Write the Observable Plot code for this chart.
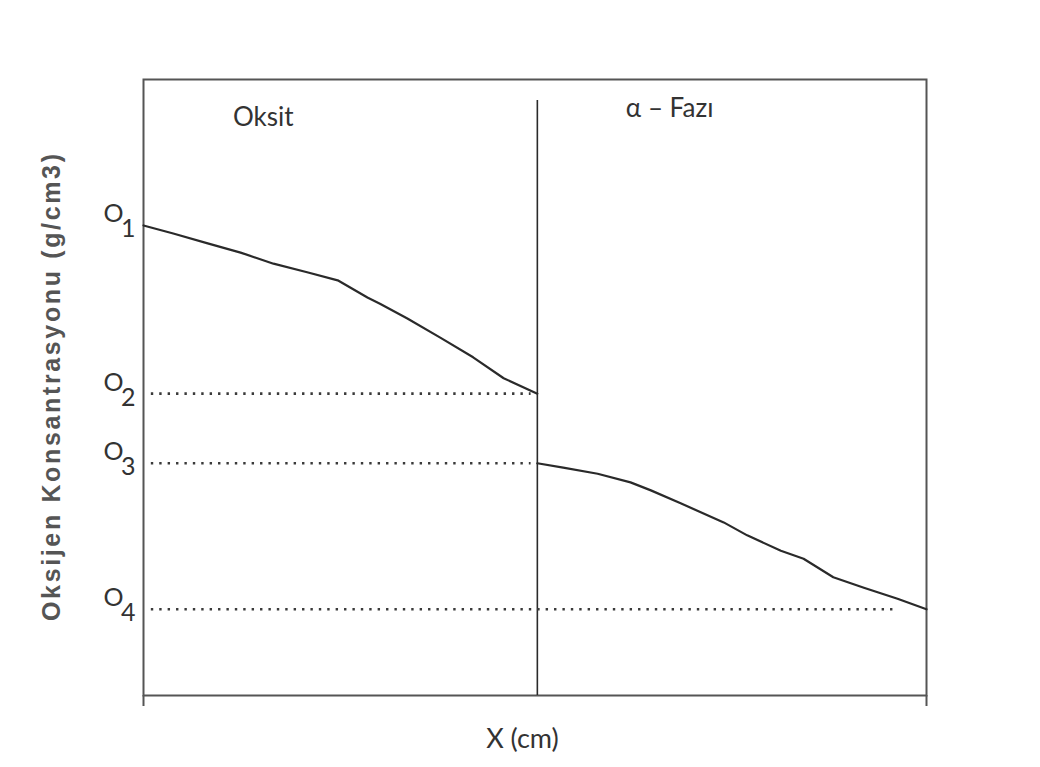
<!DOCTYPE html>
<html>
<head>
<meta charset="utf-8">
<script src="https://cdn.jsdelivr.net/npm/d3@7"></script>
<script src="https://cdn.jsdelivr.net/npm/@observablehq/plot@0.6"></script>
<style>
  html, body { margin: 0; padding: 0; background: #fff; }
  #chart { position: absolute; left: 0; top: 0; }
</style>
</head>
<body>
<div id="chart"></div>
<script>
// Oxygen concentration profile across the oxide layer and the alpha phase.
// Positions are in percent of the specimen depth, concentration in relative units.
const oxideX = [0, 3.8, 8.2, 12.4, 16.6, 20.9, 24.8, 28.6, 30.2, 33.7, 37.9, 42.1, 46.0, 50.3];
const oxideC = [76.3, 75.0, 73.4, 71.9, 70.1, 68.7, 67.4, 64.6, 63.6, 61.2, 58.1, 54.9, 51.5, 49.0];

const alphaX = [50.3, 53.6, 58.0, 62.2, 64.8, 68.6, 74.1, 77.1, 81.4, 84.3, 88.1, 92.0, 96.3, 100];
const alphaC = [37.7, 37.0, 36.0, 34.6, 33.3, 31.2, 28.1, 26.0, 23.5, 22.2, 19.2, 17.5, 15.7, 14.0];

// Oxide / alpha-phase interface
const interfaceX = 50.3;
const interfaceTop = 96.6;

// Characteristic concentration levels O1..O4
const levelNames = ["1", "2", "3", "4"];
const levelValues = [76.3, 49.0, 37.7, 14.0];

// Dotted guides for O2..O4
const guideLevels = [49.0, 37.7, 14.0];
const guideEnds = [49.5, 49.5, 96.3];

// Region names
const regionNames = ["Oksit", "α – Fazı"];
const regionX = [15.3, 61.6];

const xTitle = "X (cm)";
const yTitle = "Oksijen Konsantrasyonu (g/cm3)";

const oxide = oxideX.map((x, i) => ({x, c: oxideC[i]}));
const alpha = alphaX.map((x, i) => ({x, c: alphaC[i]}));

const ink = "#2a2a2a";
const frameInk = "#555";

const chart = Plot.plot({
  width: 1040,
  height: 767,
  marginLeft: 143,
  marginRight: 114,
  marginTop: 79,
  marginBottom: 72,
  style: {background: "#fff", fontFamily: "Lato, sans-serif"},
  x: {domain: [0, 100], axis: null},
  y: {domain: [0, 100], axis: null},
  marks: [
    Plot.frame({stroke: frameInk, strokeWidth: 2}),
    // corner ticks below the frame
    Plot.axisX([0, 100], {tickSize: 11, tickFormat: () => "", stroke: frameInk, strokeWidth: 2, label: null}),
    // interface between the two phases
    Plot.ruleX([interfaceX], {y1: 0, y2: interfaceTop, stroke: ink, strokeWidth: 1.6}),
    // dotted reference levels
    Plot.ruleY(guideLevels, {x1: 1, x2: guideEnds, stroke: "#3a3a3a", strokeWidth: 2.6, strokeDasharray: "2.4,6"}),
    // concentration profiles
    Plot.line(oxide, {x: "x", y: "c", stroke: ink, strokeWidth: 2.2}),
    Plot.line(alpha, {x: "x", y: "c", stroke: ink, strokeWidth: 2.2}),
    // level labels: O with subscript index
    Plot.text(levelValues, {x: 0, y: d => d, text: () => "O", textAnchor: "end", lineAnchor: "bottom",
      dx: -20, dy: -3, fontSize: 25, fill: "#333"}),
    Plot.text(levelValues, {x: 0, y: d => d, text: levelNames, textAnchor: "end", lineAnchor: "bottom",
      dx: -8, dy: 12, fontSize: 25, fill: "#333"}),
    // region names
    Plot.text([regionNames[0]], {x: [regionX[0]], frameAnchor: "top", lineAnchor: "bottom", textAnchor: "middle",
      dy: 46, fontSize: 26, fill: "#333"}),
    Plot.text([regionNames[1]], {x: [regionX[1]], frameAnchor: "top", lineAnchor: "bottom", textAnchor: "start",
      dy: 37, fontSize: 26, fill: "#333"}),
    // axis titles
    Plot.text([xTitle], {x: [48.4], frameAnchor: "bottom", lineAnchor: "bottom", textAnchor: "middle",
      dy: 52, fontSize: 27, fill: "#333"}),
    Plot.text([yTitle], {frameAnchor: "left", rotate: -90, textAnchor: "middle", lineAnchor: "middle",
      dx: -92, fontSize: 25, fontWeight: "bold", fill: "#555",
      fontFamily: "'Liberation Sans', Arial, sans-serif"})
  ]
});

document.getElementById("chart").appendChild(chart);

// spread the vertical title over its full height
d3.select(chart).selectAll("text")
  .filter(function() { return this.textContent === yTitle; })
  .attr("textLength", 467)
  .attr("lengthAdjust", "spacing");
</script>
</body>
</html>
